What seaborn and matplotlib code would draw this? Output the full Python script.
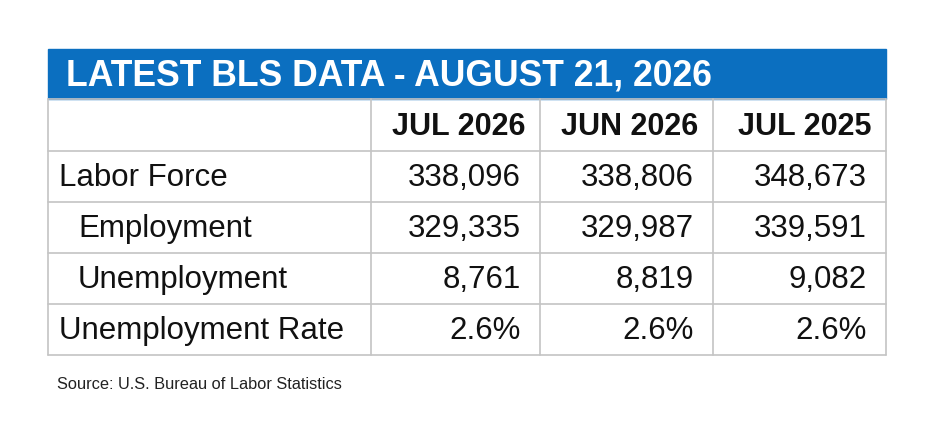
import matplotlib.pyplot as plt
import seaborn as sns
from matplotlib.patches import Rectangle

title = "LATEST BLS DATA - AUGUST 21, 2026"
columns = ["JUL 2026", "JUN 2026", "JUL 2025"]
row_labels = ["Labor Force", "Employment", "Unemployment", "Unemployment Rate"]
row_indent = [False, True, True, False]
labor_force = ["338,096", "338,806", "348,673"]
employment = ["329,335", "329,987", "339,591"]
unemployment = ["8,761", "8,819", "9,082"]
unemp_rate = ["2.6%", "2.6%", "2.6%"]
source = "Source: U.S. Bureau of Labor Statistics"

values = [labor_force, employment, unemployment, unemp_rate]

sns.set_theme(style="white")
plt.rcParams["font.family"] = ["Liberation Sans", "DejaVu Sans"]

fig = plt.figure(figsize=(9.36, 4.39), dpi=100)
ax = fig.add_axes([0, 0, 1, 1])
ax.set_xlim(0, 936)
ax.set_ylim(439, 0)
ax.axis("off")

blue = "#0b6fc0"
grid = "#c4c4c4"
col_x = [48, 371, 540, 713, 886]
row_y = [100, 152, 203, 254, 305, 356]

# title band
ax.add_patch(Rectangle((48, 50), 838, 50, color=blue))
ax.text(66, 76, title, color="white", fontsize=25.6, fontweight="bold", va="center")

# grid
for y in row_y:
    ax.plot([48, 886], [y, y], color=grid, lw=1.2)
for x in col_x:
    ax.plot([x, x], [100, 356], color=grid, lw=1.2)

# column headers
for j, c in enumerate(columns):
    ax.text(col_x[j + 2] - 15, (row_y[0] + row_y[1]) / 2 + 1, c, ha="right", va="center",
            fontsize=22, fontweight="bold", color="#111111")

# body
for i, (lab, ind) in enumerate(zip(row_labels, row_indent)):
    yc = (row_y[i + 1] + row_y[i + 2]) / 2 + 1
    ax.text(78 if ind else 59, yc, lab, ha="left", va="center", fontsize=22.5, color="#111111")
    for j, v in enumerate(values[i]):
        ax.text(col_x[j + 2] - 19, yc, v, ha="right", va="center", fontsize=22.5, color="#111111")

ax.text(57, 385, source, ha="left", va="center", fontsize=11.8, color="#222222")

fig.savefig("out.png", dpi=100)
